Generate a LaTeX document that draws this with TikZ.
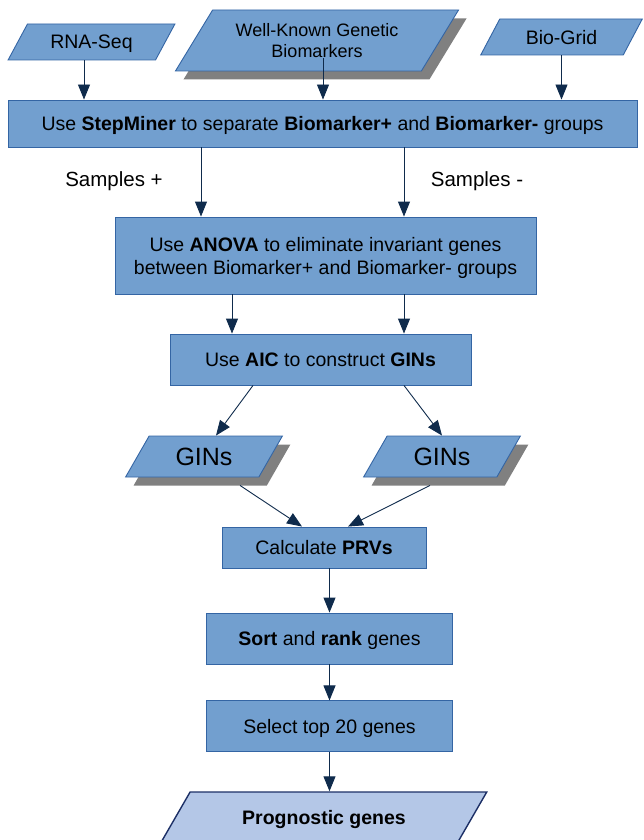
\documentclass[tikz,border=0pt]{standalone}
\usepackage{fontspec}
\setmainfont{Liberation Sans}
\usetikzlibrary{arrows.meta,positioning,shapes.geometric,shadows}

\definecolor{boxblue}{HTML}{729FCF}
\definecolor{boxedge}{HTML}{3465A4}
\definecolor{lightblue}{HTML}{B4C7E7}
\definecolor{darknavy}{HTML}{1C2F66}
\definecolor{arrownavy}{HTML}{0F2B4C}

\begin{document}
\begin{tikzpicture}[
  x=1pt, y=-1pt,
  stepbox/.style={rectangle, draw=boxedge, fill=boxblue, line width=0.9pt,
                  align=center, inner sep=0pt, text depth=0pt,
                  font=\fontsize{19.5}{23}\selectfont},
  databox/.style={trapezium, trapezium stretches=true, draw=boxedge, fill=boxblue,
                  line width=0.9pt, align=center, inner sep=0pt, text depth=0pt,
                  font=\fontsize{19.5}{23}\selectfont},
  shadowed/.style={drop shadow={shadow xshift=8pt, shadow yshift=-8.5pt,
                   fill=black!50, opacity=1}},
  lbl/.style={text depth=0pt, font=\fontsize{20.5}{24}\selectfont},
  arrow/.style={-{Triangle[length=15pt,width=12pt]}, line width=0.9pt, draw=arrownavy},
]
  \useasboundingbox (0,0) rectangle (643,840);
  \clip (0,0) rectangle (643,840);

  % inputs
  \node[databox, trapezium left angle=47.5, trapezium right angle=132.5,
        minimum width=167pt, minimum height=36pt] (rnaseq) at (91.5,42) {RNA-Seq};
  \node[databox, shadowed, trapezium left angle=49.6, trapezium right angle=130.4,
        minimum width=284pt, minimum height=61pt, font=\fontsize{18}{21}\selectfont]
        (knownbm) at (317,40.5) {Well-Known Genetic\\Biomarkers};
  \node[databox, trapezium left angle=52, trapezium right angle=128,
        minimum width=163pt, minimum height=36pt] (biogrid) at (561.5,37) {Bio-Grid};

  % processing steps
  \node[stepbox, minimum width=629pt, minimum height=47pt] (stepminer) at (322.5,123.5)
    {Use \textbf{StepMiner} to separate \textbf{Biomarker+} and \textbf{Biomarker-} groups};
  \node[lbl] (smplplus) at (114,179) {Samples +};
  \node[lbl] (smplminus) at (477,179) {Samples -};
  \node[stepbox, minimum width=421pt, minimum height=77pt] (anova) at (325.5,255.5)
    {Use \textbf{ANOVA} to eliminate invariant genes\\between Biomarker+ and Biomarker- groups};
  \node[stepbox, minimum width=301pt, minimum height=51pt] (aic) at (320.5,359.5)
    {Use \textbf{AIC} to construct \textbf{GINs}};

  \node[databox, shadowed, trapezium left angle=55, trapezium right angle=125,
        minimum width=158pt, minimum height=41pt, font=\fontsize{25}{28}\selectfont]
        (ginsplus) at (204,456.5) {GINs};
  \node[databox, shadowed, trapezium left angle=55, trapezium right angle=125,
        minimum width=158pt, minimum height=41pt, font=\fontsize{25}{28}\selectfont]
        (ginsminus) at (442,456.5) {GINs};

  \node[stepbox, minimum width=204pt, minimum height=41pt] (prv) at (324,547.5)
    {Calculate \textbf{PRVs}};
  \node[stepbox, minimum width=246pt, minimum height=51pt] (rank) at (329.5,638.5)
    {\textbf{Sort} and \textbf{rank} genes};
  \node[stepbox, minimum width=246pt, minimum height=51pt, below=36pt of rank] (select)
    {Select top 20 genes};
  \node[databox, trapezium left angle=38.7, trapezium right angle=141.3,
        minimum width=326pt, minimum height=50pt, fill=lightblue, draw=darknavy,
        line width=1.4pt] (prognostic) at (324,817) {\textbf{Prognostic genes}};

  % connectors
  \coordinate (colA) at (84,0);
  \coordinate (kbtail) at (323,58);
  \coordinate (splitL) at (201,0);
  \coordinate (splitR) at (404,0);
  \coordinate (midL) at (232,0);
  \coordinate (aicL) at (253,0);

  \draw[arrow] (rnaseq.south -| colA) -- (stepminer.north -| colA);
  \draw[arrow] (kbtail) -- (stepminer.north -| kbtail);
  \draw[arrow] (biogrid.south) -- (stepminer.north -| biogrid.south);

  \draw[arrow] (stepminer.south -| splitL) -- (anova.north -| splitL);
  \draw[arrow] (stepminer.south -| splitR) -- (anova.north -| splitR);
  \draw[arrow] (anova.south -| midL) -- (aic.north -| midL);
  \draw[arrow] (anova.south -| splitR) -- (aic.north -| splitR);

  \draw[arrow] (aic.south -| aicL) -- ([xshift=12pt]ginsplus.north);
  \draw[arrow] (aic.south -| splitR) -- (ginsminus.north);
  \draw[arrow] ([xshift=36pt,yshift=-8pt]ginsplus.south) -- ([xshift=-22pt]prv.north);
  \draw[arrow] ([xshift=-12pt,yshift=-8pt]ginsminus.south) -- ([xshift=24pt]prv.north);

  \draw[arrow] (prv.south -| rank.north) -- (rank.north);
  \draw[arrow] (rank) -- (select);
  \draw[arrow] (select.south) -- (prognostic.north -| select.south);
\end{tikzpicture}
\end{document}
